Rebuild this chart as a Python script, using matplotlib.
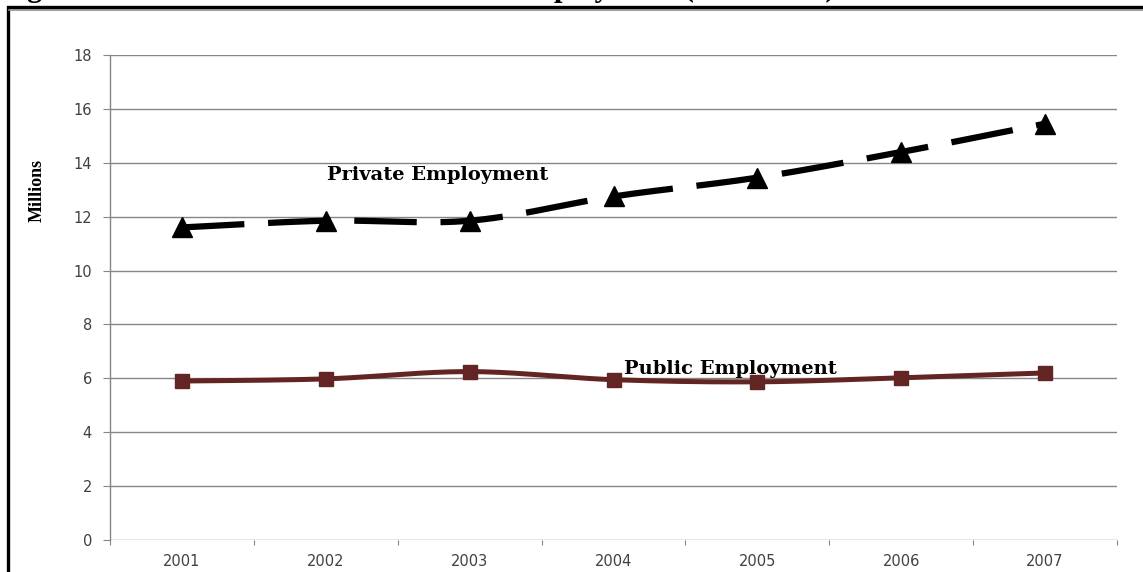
import numpy as np
import matplotlib
matplotlib.use("Agg")
import matplotlib.pyplot as plt
from matplotlib.patches import Rectangle

years = ["2001", "2002", "2003", "2004", "2005", "2006", "2007"]
private_emp = [11.6, 11.85, 11.85, 12.75, 13.45, 14.4, 15.45]
public_emp = [5.9, 5.98, 6.25, 5.95, 5.87, 6.02, 6.2]
y_ticks = [0, 2, 4, 6, 8, 10, 12, 14, 16, 18]

GRID = "#868686"
PUBLIC_COLOR = "#632523"
TICK_TEXT = "#404040"


def smooth(x, y, n=30):
    # Excel-style smoothed line (cardinal / Catmull-Rom bezier through the points)
    x = np.asarray(x, float)
    y = np.asarray(y, float)
    px = np.concatenate([[x[0]], x, [x[-1]]])
    py = np.concatenate([[y[0]], y, [y[-1]]])
    xs, ys = [], []
    for i in range(1, len(px) - 2):
        p0 = np.array([px[i - 1], py[i - 1]])
        p1 = np.array([px[i], py[i]])
        p2 = np.array([px[i + 1], py[i + 1]])
        p3 = np.array([px[i + 2], py[i + 2]])
        c1 = p1 + (p2 - p0) / 6.0
        c2 = p2 - (p3 - p1) / 6.0
        t = np.linspace(0, 1, n)[:, None]
        b = ((1 - t) ** 3) * p1 + 3 * ((1 - t) ** 2) * t * c1 + 3 * (1 - t) * t ** 2 * c2 + t ** 3 * p2
        xs.extend(b[:, 0])
        ys.extend(b[:, 1])
    return np.array(xs), np.array(ys)


fig = plt.figure(figsize=(11.43, 5.72), dpi=100)
W, H = 1143, 572

# outer frame of the original document figure
fig.patches.append(Rectangle((8 / W, -0.2), 1.2, 1 - 7 / H + 0.2, transform=fig.transFigure,
                             fill=False, edgecolor="black", linewidth=2.4, zorder=0))
fig.add_artist(plt.Line2D([9 / W, 1.0], [1 - 9.5 / H, 1 - 9.5 / H], transform=fig.transFigure,
                          color="#8c8c8c", linewidth=1.2))

# caption above the frame, cut off by the top edge as in the scan
fig.text(0.0, 1 + 4 / H, "Figure 1: Trends of Public and Private Employment (2001-2007)",
         family="Liberation Serif", fontweight="bold", fontsize=22, va="baseline", ha="left")

ax = fig.add_axes([110 / W, 32 / H, (1117 - 110) / W, (540 - 55) / H])
x = np.arange(len(years))

sx, sy = smooth(x, private_emp)
ax.plot(sx, sy, color="black", linewidth=4.5, dashes=(10, 3.8), solid_capstyle="butt",
        dash_capstyle="butt", zorder=3)
ax.plot(x, private_emp, linestyle="none", marker="^", markersize=15, color="black", zorder=4)

sx, sy = smooth(x, public_emp)
ax.plot(sx, sy, color=PUBLIC_COLOR, linewidth=3.6, zorder=3)
ax.plot(x, public_emp, linestyle="none", marker="s", markersize=9.5, color=PUBLIC_COLOR, zorder=4)

ax.text(1.01, 13.55, "Private Employment", family="DejaVu Serif", fontweight="bold",
        fontsize=14, va="center", ha="left")
ax.text(3.07, 6.35, "Public Employment", family="DejaVu Serif", fontweight="bold",
        fontsize=14, va="center", ha="left")

ax.set_xlim(-0.5, len(years) - 0.5)
ax.set_ylim(0, 18)
ax.set_yticks(y_ticks)
ax.set_yticklabels([str(v) for v in y_ticks], family="DejaVu Sans", fontsize=10.5, color=TICK_TEXT)
ax.grid(axis="y", color=GRID, linewidth=1.0)
ax.set_axisbelow(True)

ax.set_xticks(np.arange(-0.5, len(years)), minor=False)
ax.set_xticklabels([])
ax.set_xticks(x, minor=True)
ax.set_xticklabels(years, minor=True, family="DejaVu Sans", fontsize=10.5, color=TICK_TEXT)
ax.tick_params(axis="x", which="major", length=3.5, color=GRID, direction="out")
ax.tick_params(axis="x", which="minor", length=0, pad=10)
ax.tick_params(axis="y", length=5, color=GRID, pad=8)

for s in ["top", "right", "bottom"]:
    ax.spines[s].set_visible(False)
ax.spines["left"].set_color(GRID)
ax.spines["left"].set_linewidth(1.0)

ax.set_ylabel("Millions", family="Liberation Serif", fontweight="bold", fontsize=13)
ax.yaxis.set_label_coords(-0.064, 0.72)

fig.savefig("out.png", dpi=100)
